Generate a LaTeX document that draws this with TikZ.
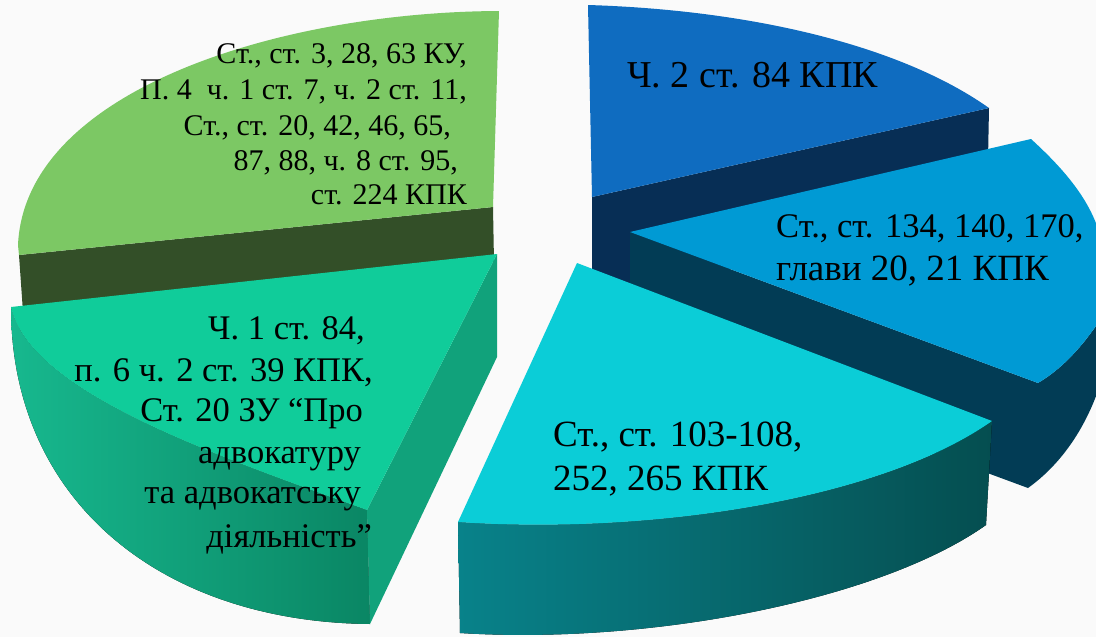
\documentclass[tikz,border=0pt]{standalone}
\usepackage{fontspec}
\setmainfont{Liberation Serif}
\definecolor{bgc}{HTML}{FAFAFA}
\definecolor{lgtop}{HTML}{7CC864}
\definecolor{lgband}{HTML}{334F28}
\definecolor{tealtop}{HTML}{10CC9A}
\definecolor{tealrad}{HTML}{11A27B}
\definecolor{tealL}{HTML}{17B88E}
\definecolor{tealR}{HTML}{0A8664}
\definecolor{cytop}{HTML}{0BCDD7}
\definecolor{cyL}{HTML}{08828A}
\definecolor{cyR}{HTML}{054E50}
\definecolor{btop}{HTML}{009AD4}
\definecolor{bdark}{HTML}{023C55}
\definecolor{dbtop}{HTML}{0F6CC0}
\definecolor{dbdark}{HTML}{072E55}
\tikzset{
  lbl/.style={inner sep=0pt, text=black},
  lgtxt/.style={lbl, font=\fontsize{30}{35}\selectfont, anchor=base east},
  tltxt/.style={lbl, font=\fontsize{34.5}{41}\selectfont, anchor=base east},
  bigtxt/.style={lbl, font=\fontsize{37}{44}\selectfont, anchor=base west}
}
\begin{document}
\begin{tikzpicture}[x=1pt,y=-1pt]
\useasboundingbox (0,0) rectangle (1096,637);
\fill[bgc] (0,0) rectangle (1096,637);
\begin{scope}
\clip (0,0) rectangle (1096,637);
% dark blue slice
\fill[dbdark] (592,197) -- (989,108) -- (987,212) -- (592,300) -- cycle;
\fill[dbtop] (588,5) .. controls (750,10) and (900,45) .. (989,108) -- (592,197) -- cycle;
% blue slice
\fill[bdark] (630,232) -- (1038,383) .. controls (1060,370) and (1080,350) .. (1100,320)
  -- (1100,385) .. controls (1085,430) and (1060,465) .. (1028,488) -- (630,341) -- cycle;
\fill[btop] (630,232) -- (1031,139) .. controls (1065,170) and (1090,200) .. (1100,235)
  -- (1100,320) .. controls (1080,350) and (1060,370) .. (1038,383) -- cycle;
% light green slice
\fill[lgband] (19,255) -- (493,207) -- (494,262) -- (23,312) -- cycle;
\fill[lgtop] (499,11) .. controls (280,12) and (25,90) .. (18,245) -- (19,255) -- (493,207) -- cycle;
% teal slice
\fill[left color=tealL, right color=tealR] (11,307) .. controls (11,500) and (160,622) .. (370,624)
  -- (367,510) .. controls (200,450) and (30,390) .. (11,307) -- cycle;
\fill[tealrad] (497,254) -- (367,510) -- (370,624) -- (497,357) -- cycle;
\fill[tealtop] (497,254) -- (11,307) .. controls (30,390) and (200,450) .. (367,510) -- cycle;
% cyan slice
\fill[left color=cyL, right color=cyR] (458,522) -- (460,633) .. controls (650,645) and (880,600) .. (986,525)
  -- (992,421) .. controls (880,500) and (650,535) .. (458,522) -- cycle;
\fill[cytop] (577,263) -- (992,421) .. controls (880,500) and (650,535) .. (458,522) -- cycle;
\end{scope}
% texts
\node[lgtxt] (lg1) at (467,63) {Ст., ст. 3, 28, 63 КУ,};
\node[lgtxt] (lg2) at (467,99) {П. 4~~ч. 1 ст. 7, ч. 2 ст. 11,};
\node[lgtxt] (lg3) at (451,135) {Ст., ст. 20, 42, 46, 65,};
\node[lgtxt] (lg4) at (458,170) {87, 88, ч. 8 ст. 95,};
\node[lgtxt] (lg5) at (467,204) {ст. 224 КПК};
\node[tltxt] (t1) at (365,339) {Ч. 1 ст. 84,};
\node[tltxt] (t2) at (373,381) {п. 6 ч. 2 ст. 39 КПК,};
\node[tltxt] (t3) at (363,421) {Ст. 20 ЗУ “Про};
\node[tltxt] (t4) at (361,463) {адвокатуру};
\node[tltxt] (t5) at (361,503) {та адвокатську};
\node[tltxt] (t6) at (372,547) {діяльність”};
\node[bigtxt, font=\fontsize{38}{44}\selectfont] (d1) at (627,87) {Ч. 2 ст. 84 КПК};
\node[bigtxt, font=\fontsize{34.5}{44}\selectfont] (b1) at (776,237) {Ст., ст. 134, 140, 170,};
\node[bigtxt] (b2) at (776,280) {глави 20, 21 КПК};
\node[bigtxt] (c1) at (553,446) {Ст., ст. 103-108,};
\node[bigtxt] (c2) at (553,490) {252, 265 КПК};
\end{tikzpicture}
\end{document}
